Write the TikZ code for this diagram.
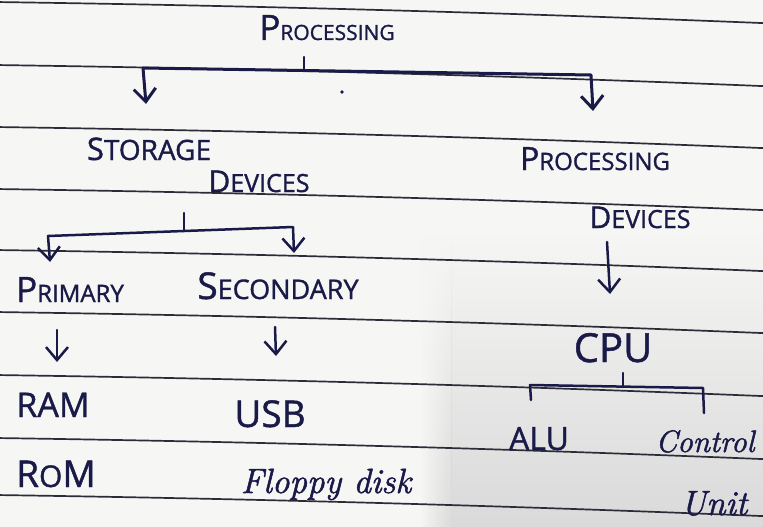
\documentclass[tikz,border=0pt]{standalone}
\usepackage{fontspec}
\usetikzlibrary{arrows.meta,fadings}
\newfontfamily\handfont{Open Sans}[FakeBold=1.2]
\newfontfamily\cursfont{Latin Modern Roman}[FakeBold=1.6]
\definecolor{ink}{HTML}{1A1A48}
\definecolor{rulecol}{HTML}{2C2C38}
\definecolor{paper}{HTML}{F6F6F5}
\definecolor{shadecol}{HTML}{DADADA}
\newcommand\hc[4]{{\fontsize{#1}{#1}\selectfont #3}{\fontsize{#2}{#2}\selectfont #4}}
\begin{document}
\begin{tikzpicture}[x=1pt,y=-1pt,
  hand/.style={inner sep=0pt, anchor=base, text=ink, font=\handfont},
  curs/.style={inner sep=0pt, anchor=base, text=ink, font={\cursfont\fontsize{35}{35}\selectfont\itshape}},
  link/.style={draw=ink, line width=2.5pt, line cap=round, line join=round},
  tip/.tip={Straight Barb[length=13pt,width=22pt]},
  arr/.style={link, -tip},
  rule/.style={draw=rulecol, line width=1.7pt}]
\useasboundingbox (0,0) rectangle (763,527);
\begin{scope}
\clip (0,0) rectangle (763,527);
\fill[paper] (0,0) rectangle (763,527);
\shade[path fading=north, left color=paper, right color=shadecol] (420,235) rectangle (452,527);
\fill[shadecol, path fading=north] (451,235) rectangle (763,527);
\foreach \y in {2,65,127,189,250,312,375,438,495}
  \draw[rule] (-5,\y) .. controls (254,\y+3.7) and (509,\y+10.7) .. (768,\y+21.3);
\end{scope}
% texts
\node[hand] (proc) at (327,40) {\hc{35}{21}{P}{ROCESSING}};
\node[hand] (stor) at (149,160) {\hc{31}{28}{S}{TORAGE}};
\node[hand] (sdev) at (259,192) {\hc{30}{25}{D}{EVICES}};
\node[hand] (pproc) at (595,170) {\hc{32}{24}{P}{ROCESSING}};
\node[hand] (pdev) at (640,228) {\hc{30}{25}{D}{EVICES}};
\node[hand] (prim) at (70,302) {\hc{35}{24}{P}{RIMARY}};
\node[hand] (sec) at (278,299) {\hc{37}{27}{S}{ECONDARY}};
\node[hand, font={\handfont\fontsize{40}{40}\selectfont}] (cpu) at (613,362) {CPU};
\node[hand, font={\handfont\fontsize{34}{34}\selectfont}] (ram) at (53,417) {RAM};
\node[hand] (rom) at (56,487) {\fontsize{37}{37}\selectfont R{\fontsize{30}{30}\selectfont O}M};
\node[hand, font={\handfont\fontsize{37}{37}\selectfont}] (usb) at (270,427) {USB};
\node[hand, font={\handfont\fontsize{32}{32}\selectfont}] (alu) at (539,450) {ALU};
\node[curs] (flop) at (326,493) {Floppy disk};
\node[curs, font={\cursfont\fontsize{31}{31}\selectfont\itshape}] (ctrl) at (705,452) {Control};
\node[curs] (unit) at (714,515) {Unit};
% top bracket
\coordinate (t0) at (304,57); \coordinate (t1) at (304,70);
\coordinate (tl) at (143,68); \coordinate (tr) at (591,75);
\coordinate (tla) at (146,104); \coordinate (tra) at (593,111);
\draw[link] (t0) -- (t1);
\draw[link, line width=3pt, tip-tip] (tla) -- (tl) -- (tr) -- (tra);
\fill[ink] (342,92) circle (1.8);
% storage bracket
\coordinate (s0) at (184,213); \coordinate (s1) at (184,231);
\coordinate (sl) at (48,236); \coordinate (sr) at (293,227);
\coordinate (sla) at (50,262); \coordinate (sra) at (294,253);
\draw[link] (s0) -- (s1);
\draw[link, tip-tip] (sla) -- (sl) -- (sr) -- (sra);
% processing devices arrow
\coordinate (p0) at (607,242); \coordinate (p1) at (610,294);
\draw[arr] (p0) -- (p1);
% primary / secondary arrows
\coordinate (a0) at (57,330); \coordinate (a1) at (57,362);
\coordinate (b0) at (275,327); \coordinate (b1) at (276,356);
\draw[arr] (a0) -- (a1);
\draw[arr] (b0) -- (b1);
% cpu bracket
\coordinate (c0) at (623,373); \coordinate (c1) at (623,387);
\coordinate (cl) at (530,385); \coordinate (cr) at (703,388);
\coordinate (cla) at (531,400); \coordinate (cra) at (704,413);
\draw[link] (c0) -- (c1);
\draw[link] (cla) -- (cl) -- (cr) -- (cra);
\end{tikzpicture}
\end{document}
